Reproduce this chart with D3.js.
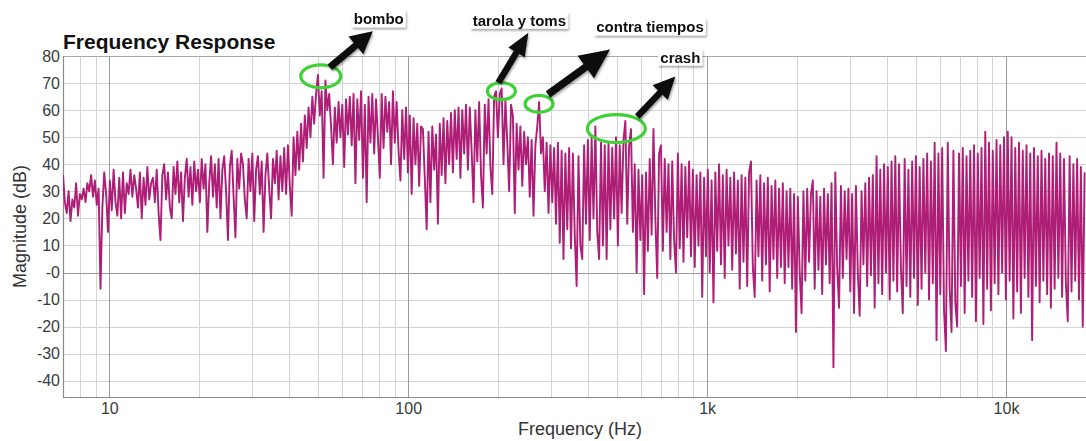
<!DOCTYPE html>
<html>
<head>
<meta charset="utf-8">
<script src="https://cdn.jsdelivr.net/npm/d3@7"></script>
<style>
  html, body { margin: 0; padding: 0; background: #fff; }
  svg { display: block; }
</style>
</head>
<body>
<svg id="chart" width="1086" height="441"></svg>
<script>
// Analyzer output: magnitude in dB on a 1/48-octave grid starting at 7 Hz
const startHz = 7;
const pointsPerOctave = 48;

// 7 – 28 Hz
const magSub = [
  36, 26, 22, 30, 19, 27, 24, 33, 21, 29,
  27, 31, 26, 33, 30, 36, 28, 34, 25, 31,
  -6, 24, 37, 29, 15,
  34, 23, 38, 26, 21, 35, 20, 37, 22, 33, 29,
  38, 28, 36, 31, 24, 37, 20, 35, 25, 39, 27, 33,
  35, 26, 38, 22, 12, 36, 40, 27, 37, 24, 20, 39,
  29, 41, 26, 37, 19, 35, 42, 28, 39, 25, 41, 30,
  38, 26, 42, 31, 40, 15, 33, 43, 28, 40, 24, 42,
  20, 38, 43, 30, 12, 39, 45, 28, 13, 42, 31, 44
];
// 28 – 112 Hz
const magBass = [
  40, 27, 20, 42, 30, 44, 19, 38, 43, 29, 41, 15,
  36, 44, 31, 20, 42, 33, 45, 27, 43, 30, 46, 29,
  47, 32, 21, 50, 36, 52, 38, 55, 41, 58, 46, 61,
  50, 65, 55, 66, 73, 58, 67, 35, 71, 60, 66, 54,
  40, 61, 48, 63, 50, 62, 39, 64, 51, 65, 47, 66,
  33, 64, 49, 67, 35, 62, 26, 65, 48, 66, 44, 64,
  50, 35, 66, 46, 65, 52, 63, 40, 67, 48, 63, 45,
  34, 60, 42, 61, 37, 58, 29, 57, 40, 55, 32, 54
];
// 112 – 448 Hz
const magLowMid = [
  53, 35, 16, 52, 26, 54, 38, 51, 18, 55, 36, 57,
  33, 56, 40, 59, 37, 60, 42, 61, 35, 60, 44, 62,
  38, 61, 45, 26, 60, 41, 63, 36, 24, 62, 44, 64,
  39, 29, 65, 67, 50, 66, 68, 40, 64, 48, 30, 62,
  58, 22, 55, 38, 54, 32, 52, 40, 50, 28, 49, 21,
  47, 54, 63, 44, 50, 30, 48, 22, 47, 26, 46, 18,
  48, 11, 45, 5, 44, 16, 46, 9, 44, 14, -5, 43,
  10, 5, 47, 18, 49, 12, 50, 20, 54, 15, 5, 48
];
// 448 Hz – 1.8 kHz
const magMid = [
  10, 47, 5, 48, 16, 46, 20, 50, 10, 47, 22, 49,
  56, 18, 47, 53, 15, 40, 0, 38, 12, 36, -8, 37,
  8, 42, 14, 53, 20, -2, 44, 47, 8, 42, 15, 40,
  5, 41, 12, 0, 44, 9, 40, 4, 39, 13, 41, 6,
  38, 2, 36, 10, 37, -9, 35, 6, 38, 0, 34, -11,
  37, 8, 40, 3, 36, -2, 38, 10, 35, 1, 37, 7,
  34, -6, 36, 4, 35, -5, 37, 41, 2, -9, 34, 6,
  36, -3, 33, 3, 35, -7, 32, 5, 34, -2, 31, 2
];
// 1.8 kHz – 7.2 kHz
const magHighMid = [
  33, -4, 30, 2, 31, -6, 29, -22, 28, 0, -15, 30,
  -3, 31, 4, 29, 34, -6, 30, 1, 28, -8, 31, 3,
  29, -4, 33, -35, 37, 2, -13, 32, -2, 30, 5, 31,
  -7, 29, -15, 32, 0, -16, 30, 3, 33, -5, 35, -1,
  36, -13, 43, -4, 38, -8, 40, 0, 39, -10, 41, -3,
  43, -7, 40, 2, -15, 42, -5, 38, -9, 41, -2, 43,
  -12, 39, -6, 42, 0, 44, -10, 41, -4, 48, -25, 44,
  -8, 46, -14, -29, 48, -6, -22, 45, -11, -20, 44, -5
];
// 7.2 kHz – 18.5 kHz
const magHigh = [
  46, -15, 43, -3, 45, -9, 47, -18, 44, -2, 46, -19,
  52, -6, 48, -14, 45, -4, 49, -8, 47, 0, 50, -10,
  52, -3, 50, -17, 46, -7, 48, -15, 45, -2, 47, -9,
  44, -25, 46, -5, 43, -11, 45, -3, 42, -8, 44, -13,
  43, -6, 48, -2, 44, -9, 42, -4, -18, 43, -7, 40,
  -3, 42, -10, 39, -20, 37
];

const yTicks = [80, 70, 60, 50, 40, 30, 20, 10, 0, -10, -20, -30, -40];
const yTickLabels = ["80", "70", "60", "50", "40", "30", "20", "10", "-0", "-10", "-20", "-30", "-40"];
const xTicks = [10, 100, 1000, 10000];
const xTickLabels = ["10", "100", "1k", "10k"];

const annotationLabels = ["bombo", "tarola y toms", "contra tiempos", "crash"];
const annotationFreqs = [51, 205, 274, 497];
const annotationDb = [72.5, 67, 62.3, 53.2];

// ---------------------------------------------------------------
const magnitudes = [].concat(magSub, magBass, magLowMid, magMid, magHighMid, magHigh);
const spectrum = magnitudes.map((m, i) => ({ f: startHz * Math.pow(2, i / pointsPerOctave), m }));

const svg = d3.select("#chart");
const plot = { left: 63, right: 1086, top: 56, bottom: 397 };

const x = d3.scaleLog().domain([7, 18520]).range([plot.left, plot.right]);
const y = d3.scaleLinear().domain([-46, 80]).range([plot.bottom, plot.top]);

const defs = svg.append("defs");
defs.append("clipPath").attr("id", "plotClip")
  .append("rect")
  .attr("x", plot.left).attr("y", plot.top - 2)
  .attr("width", plot.right - plot.left).attr("height", plot.bottom - plot.top + 2);
const shadow = defs.append("filter").attr("id", "shadow")
  .attr("x", "-20%").attr("y", "-20%").attr("width", "150%").attr("height", "160%");
shadow.append("feDropShadow")
  .attr("dx", 1).attr("dy", 2).attr("stdDeviation", 1.3)
  .attr("flood-color", "#000").attr("flood-opacity", 0.35);

// grid: minor frequency lines, decade lines, dB lines
const grid = svg.append("g");
const decades = new Set(xTicks);
grid.selectAll("line.vminor")
  .data(x.ticks().filter(f => !decades.has(f) && f > 7))
  .join("line")
  .attr("x1", d => Math.round(x(d)) + 0.5).attr("x2", d => Math.round(x(d)) + 0.5)
  .attr("y1", plot.top).attr("y2", plot.bottom)
  .attr("stroke", "#d3d3d3").attr("stroke-width", 1);
grid.selectAll("line.h")
  .data(yTicks)
  .join("line")
  .attr("x1", plot.left).attr("x2", plot.right)
  .attr("y1", d => Math.round(y(d)) + 0.5).attr("y2", d => Math.round(y(d)) + 0.5)
  .attr("stroke", d => d === 0 ? "#9a9a9a" : (d === 80 ? "#a8a8a8" : "#d3d3d3"))
  .attr("stroke-width", 1);
grid.selectAll("line.vmajor")
  .data(xTicks)
  .join("line")
  .attr("x1", d => Math.round(x(d)) + 0.5).attr("x2", d => Math.round(x(d)) + 0.5)
  .attr("y1", plot.top).attr("y2", plot.bottom)
  .attr("stroke", "#9a9a9a").attr("stroke-width", 1);

// frame (left + bottom)
svg.append("line")
  .attr("x1", plot.left + 0.5).attr("x2", plot.left + 0.5)
  .attr("y1", plot.top).attr("y2", plot.bottom + 0.5)
  .attr("stroke", "#8a8a8a").attr("stroke-width", 1.2);
svg.append("line")
  .attr("x1", plot.left).attr("x2", plot.right)
  .attr("y1", plot.bottom + 0.5).attr("y2", plot.bottom + 0.5)
  .attr("stroke", "#8a8a8a").attr("stroke-width", 1.2);

// axes
const yAxis = svg.append("g")
  .attr("transform", `translate(${plot.left - 3},0)`)
  .call(d3.axisLeft(y).tickValues(yTicks).tickFormat((d, i) => yTickLabels[i]).tickSize(0).tickPadding(0));
const xAxis = svg.append("g")
  .attr("transform", `translate(0,${plot.bottom + 6})`)
  .call(d3.axisBottom(x).tickValues(xTicks).tickFormat((d, i) => xTickLabels[i]).tickSize(0).tickPadding(0));
[yAxis, xAxis].forEach(a => {
  a.select(".domain").remove();
  a.selectAll("text")
    .attr("font-family", "'Liberation Sans', Arial, Helvetica, sans-serif")
    .attr("font-size", 16).attr("fill", "#3a3a3a");
});
xAxis.selectAll("text").attr("dy", "0.71em");

// spectrum trace
const line = d3.line().x(d => x(d.f)).y(d => y(d.m));
svg.append("path")
  .datum(spectrum)
  .attr("clip-path", "url(#plotClip)")
  .attr("d", line)
  .attr("fill", "none")
  .attr("stroke", "#ae1d76")
  .attr("stroke-width", 1.9)
  .attr("stroke-linejoin", "round");

// titles
svg.append("text")
  .attr("x", plot.left).attr("y", 49)
  .attr("font-family", "'Liberation Sans', Arial, Helvetica, sans-serif")
  .attr("font-weight", "bold").attr("font-size", 21).attr("fill", "#111")
  .text("Frequency Response");
svg.append("text")
  .attr("x", 580).attr("y", 435).attr("text-anchor", "middle")
  .attr("font-family", "'Liberation Sans', Arial, Helvetica, sans-serif")
  .attr("font-size", 18).attr("fill", "#333")
  .text("Frequency (Hz)");
svg.append("text")
  .attr("transform", `translate(26,${(plot.top + plot.bottom) / 2}) rotate(-90)`)
  .attr("text-anchor", "middle")
  .attr("font-family", "'Liberation Sans', Arial, Helvetica, sans-serif")
  .attr("font-size", 18).attr("fill", "#333")
  .text("Magnitude (dB)");

// callouts: ellipse around the peak, arrow, label
const calloutLayout = [
  { rx: 20, ry: 11.5, tail: [9, -9],   tip: [52, -45],   sw: 7, hw: 23, hl: 22, label: [58, -52] },
  { rx: 14, ry: 8.5,  tail: [-3, -8.5], tip: [27, -58.5], sw: 6.5, hw: 19, hl: 23, label: [18, -65.5] },
  { rx: 14, ry: 8.5,  tail: [9, -9.5], tip: [71, -54.5], sw: 7.5, hw: 28, hl: 30, label: [111, -71.5] },
  { rx: 29, ry: 14,   tail: [21, -12], tip: [59, -52],   sw: 6.5, hw: 21, hl: 22, label: [64, -66] }
];

function arrowPath(x0, y0, x1, y1, sw, hw, hl) {
  const dx = x1 - x0, dy = y1 - y0, len = Math.hypot(dx, dy);
  const ux = dx / len, uy = dy / len, nx = -uy, ny = ux;
  const bx = x1 - ux * hl, by = y1 - uy * hl;
  const p = [
    [x0 + nx * sw / 2, y0 + ny * sw / 2],
    [bx + nx * sw / 2, by + ny * sw / 2],
    [bx + nx * hw / 2, by + ny * hw / 2],
    [x1, y1],
    [bx - nx * hw / 2, by - ny * hw / 2],
    [bx - nx * sw / 2, by - ny * sw / 2],
    [x0 - nx * sw / 2, y0 - ny * sw / 2]
  ];
  return "M" + p.map(q => q.join(",")).join("L") + "Z";
}

const callouts = svg.append("g");
annotationLabels.forEach((label, i) => {
  const L = calloutLayout[i];
  const cx = x(annotationFreqs[i]), cy = y(annotationDb[i]);
  callouts.append("ellipse")
    .attr("cx", cx).attr("cy", cy).attr("rx", L.rx).attr("ry", L.ry)
    .attr("fill", "none").attr("stroke", "#3fd138").attr("stroke-width", 3.2);
  callouts.append("path")
    .attr("d", arrowPath(cx + L.tail[0], cy + L.tail[1], cx + L.tip[0], cy + L.tip[1], L.sw, L.hw, L.hl))
    .attr("fill", "#0a0a0a")
    .attr("filter", "url(#shadow)");
  const g = callouts.append("g").attr("filter", "url(#shadow)");
  const t = g.append("text")
    .attr("x", cx + L.label[0]).attr("y", cy + L.label[1])
    .attr("text-anchor", "middle")
    .attr("font-family", "'Liberation Sans Narrow', 'Liberation Sans', Arial, sans-serif")
    .attr("font-weight", "bold").attr("font-size", 15).attr("fill", "#111")
    .text(label);
  const bb = t.node().getBBox();
  g.insert("rect", "text")
    .attr("x", bb.x - 2).attr("y", bb.y)
    .attr("width", bb.width + 4).attr("height", bb.height)
    .attr("fill", "#fff");
});
</script>
</body>
</html>
